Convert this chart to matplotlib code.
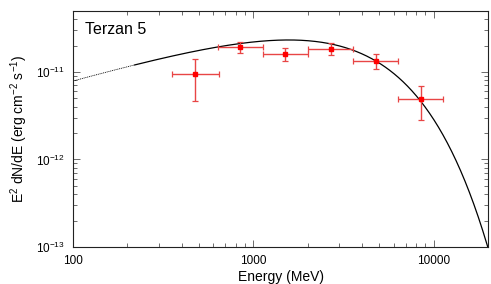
import numpy as np
import matplotlib
matplotlib.use("Agg")
import matplotlib.pyplot as plt
from matplotlib.ticker import LogLocator, FixedLocator, FixedFormatter, NullFormatter

plt.rcParams['font.family'] = ['Liberation Sans', 'DejaVu Sans']
plt.rcParams['mathtext.fontset'] = 'custom'
plt.rcParams['mathtext.rm'] = 'Liberation Sans'
plt.rcParams['mathtext.it'] = 'Liberation Sans'

# Data points (MeV, erg cm^-2 s^-1)
energy = [477, 847, 1506, 2680, 4764, 8474]
e_low = [356, 636, 1132, 2013, 3563, 6340]
e_high = [641, 1132, 2013, 3580, 6340, 11320]
flux = [9.4e-12, 1.94e-11, 1.61e-11, 1.82e-11, 1.34e-11, 4.88e-12]
flux_low = [4.7e-12, 1.64e-11, 1.34e-11, 1.56e-11, 1.07e-11, 2.83e-12]
flux_high = [1.4e-11, 2.22e-11, 1.87e-11, 2.13e-11, 1.59e-11, 6.87e-12]

# Model: power law with exponential cutoff
norm = 3.21e-11   # at 1000 MeV
gamma = 1.406
e_cut = 2641.0
e_fit_min = 220.0

x_ticks = [100, 1000, 10000]
x_ticklabels = ['100', '1000', '10000']
y_ticks = [1e-13, 1e-12, 1e-11]
y_ticklabels = [r'10$^{-13}$', r'10$^{-12}$', r'10$^{-11}$']

fig = plt.figure(figsize=(4.91, 2.84), dpi=100)
ax = fig.add_axes([0.1487, 0.1303, 0.8452, 0.832])

def model(e):
    return norm * (e / 1000.0) ** (2 - gamma) * np.exp(-e / e_cut)

e1 = np.logspace(np.log10(100), np.log10(e_fit_min), 100)
e2 = np.logspace(np.log10(e_fit_min), np.log10(20000), 400)
ax.plot(e1, model(e1), color='black', lw=0.6, ls=(0, (1.2, 1.0)))
ax.plot(e2, model(e2), color='black', lw=0.9)

energy_a = np.array(energy)
flux_a = np.array(flux)
xerr = [energy_a - np.array(e_low), np.array(e_high) - energy_a]
yerr = [flux_a - np.array(flux_low), np.array(flux_high) - flux_a]
ax.errorbar(energy_a, flux_a, xerr=xerr, yerr=yerr, fmt='s', color='#ff0000',
            ecolor='#e84545', elinewidth=1.0, capsize=2, capthick=0.9,
            markersize=3.5, zorder=3)

ax.set_xscale('log')
ax.set_yscale('log')
ax.set_xlim(100, 20000)
ax.set_ylim(1e-13, 5e-11)

ax.xaxis.set_major_locator(FixedLocator(x_ticks))
ax.xaxis.set_major_formatter(FixedFormatter(x_ticklabels))
ax.xaxis.set_minor_locator(LogLocator(base=10, subs=np.arange(2, 10)))
ax.xaxis.set_minor_formatter(NullFormatter())
ax.yaxis.set_major_locator(FixedLocator(y_ticks))
ax.yaxis.set_major_formatter(FixedFormatter(y_ticklabels))
ax.yaxis.set_minor_locator(LogLocator(base=10, subs=np.arange(2, 10)))
ax.yaxis.set_minor_formatter(NullFormatter())

ax.tick_params(which='both', direction='in', top=True, right=True, labelsize=8.5,
               color='#555555', width=0.6)
ax.tick_params(which='major', length=5, pad=6)
ax.tick_params(which='minor', length=3)
for s in ax.spines.values():
    s.set_linewidth(0.8)
    s.set_color('#222222')

ax.set_xlabel('Energy (MeV)', fontsize=10, labelpad=2)
ax.set_ylabel(r'E$^2$ dN/dE (erg cm$^{-2}$ s$^{-1}$)', fontsize=10, labelpad=4)
ax.text(0.03, 0.92, 'Terzan 5', transform=ax.transAxes, fontsize=11.5,
        ha='left', va='center')

fig.savefig('out.png', dpi=100)
